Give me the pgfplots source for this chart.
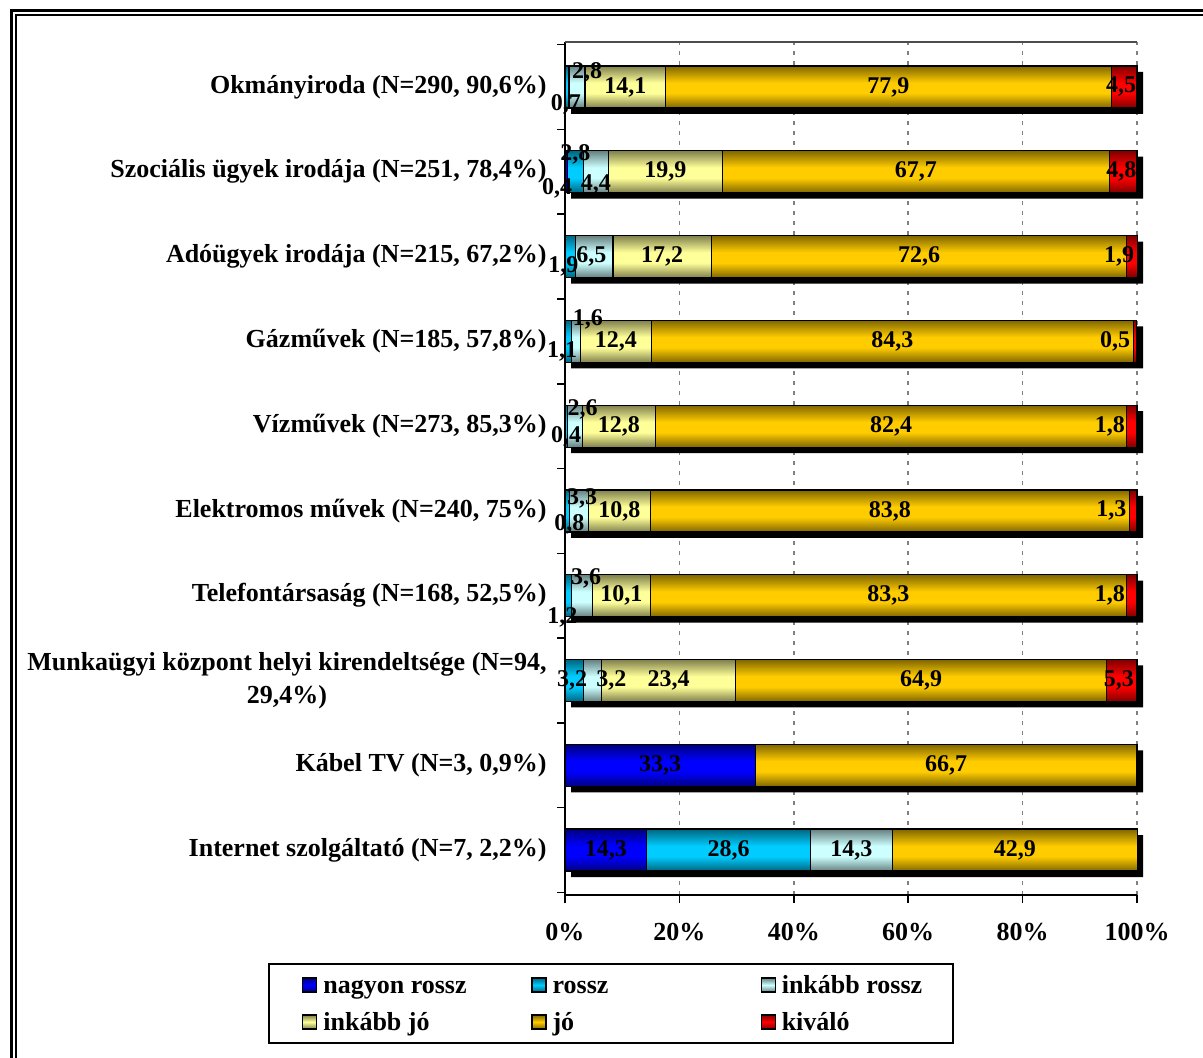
\documentclass[border=0pt]{standalone}
\usepackage{fontspec}
\setmainfont{Liberation Serif}
\usepackage{pgfplots}
\pgfplotsset{compat=1.18}
\usepackage{pgfplotstable}

\definecolor{cnr}{HTML}{0000FF}
\definecolor{cr}{HTML}{00CCFF}
\definecolor{cir}{HTML}{CCFFFF}
\definecolor{cij}{HTML}{FFFF99}
\definecolor{cjo}{HTML}{FFCC00}
\definecolor{ck}{HTML}{FF0000}

% each series is drawn as one path, so one shading covers all its bars;
% the stripes are placed at the bars from index #3 to #4 (path bbox = 25bp..75bp)
\newcommand\mkbars[4]{%
  \pgfmathsetmacro\barsH{(#4-#3)*42.396+21}%
  \gdef\barsspec{color(0bp)=(#2!50!black)}%
  \foreach \k in {#3,...,#4}{%
    \pgfmathsetmacro\bA{25+50*((\k-#3)*42.396/\barsH)}%
    \pgfmathsetmacro\bB{\bA+50*(7.35/\barsH)}%
    \pgfmathsetmacro\bC{\bA+50*(12.6/\barsH)}%
    \pgfmathsetmacro\bD{\bA+50*(21/\barsH)}%
    \xdef\barsspec{\barsspec; color(\bA bp)=(#2!50!black); color(\bB bp)=(#2); color(\bC bp)=(#2); color(\bD bp)=(#2!50!black)}%
  }%
  \xdef\barsspec{\barsspec; color(100bp)=(#2!50!black)}%
  \edef\x{\noexpand\pgfdeclareverticalshading{#1}{100bp}{\barsspec}}\x
}
\mkbars{barscnr}{cnr}{0}{8}
\mkbars{barscr}{cr}{0}{9}
\mkbars{barscir}{cir}{0}{9}
\mkbars{barscij}{cij}{2}{9}
\mkbars{barscjo}{cjo}{0}{9}
\mkbars{barsck}{ck}{2}{9}

% y: 9 = Okmanyiroda (top) ... 0 = Internet (bottom)
\pgfplotstableread{
y x lbl dx dy
9 0 {} 0 0
8 0.4 0,4 -4.5 -8.5
7 0 {} 0 0
6 0 {} 0 0
5 0 {} 0 0
4 0 {} 0 0
3 0 {} 0 0
2 0 {} 0 0
1 33.3 33,3 0 0
0 14.3 14,3 0 0
}\tnr
\pgfplotstableread{
y x lbl dx dy
9 0.7 0,7 -0.5 -8.5
8 2.8 2,8 0 8.5
7 1.9 1,9 -3.5 -5
6 1.1 1,1 -3 -5
5 0.4 0,4 0 -5
4 0.8 0,8 1 -6.5
3 1.2 1,2 -3 -11
2 3.2 3,2 -1 0
1 0 {} 0 0
0 28.6 28,6 0 0
}\tr
\pgfplotstableread{
y x lbl dx dy
9 2.8 2,8 5 7.5
8 4.4 4,4 0 -6.5
7 6.5 6,5 -1.5 0
6 1.6 1,6 6 11
5 2.6 2,6 4 8.5
4 3.3 3,3 1.5 6
3 3.6 3,6 2 8.5
2 3.2 3,2 9.5 0
1 0 {} 0 0
0 14.3 14,3 0 0
}\tir
\pgfplotstableread{
y x lbl dx dy
9 14.1 14,1 0 0
8 19.9 19,9 0 0
7 17.2 17,2 0 0
6 12.4 12,4 0 0
5 12.8 12,8 0 0
4 10.8 10,8 0 0
3 10.1 10,1 0 0
2 23.4 23,4 0 0
1 0 {} 0 0
0 0 {} 0 0
}\tij
\pgfplotstableread{
y x lbl dx dy
9 77.9 77,9 0 0
8 67.7 67,7 0 0
7 72.6 72,6 0 0
6 84.3 84,3 0 0
5 82.4 82,4 0 0
4 83.8 83,8 0 0
3 83.3 83,3 0 0
2 64.9 64,9 0 0
1 66.7 66,7 0 0
0 42.9 42,9 0 0
}\tjo
\pgfplotstableread{
y x lbl dx dy
9 4.5 4,5 -1.5 0
8 4.8 4,8 -1 0
7 1.9 1,9 -6.5 0
6 0.5 0,5 -10 0
5 1.8 1,8 -11 0
4 1.3 1,3 -11 0
3 1.8 1,8 -11 0
2 5.3 5,3 -1.5 0
1 0 {} 0 0
0 0 {} 0 0
}\tk

\pgfplotsset{
  seg/.style={draw=black, line width=0.6pt,
    top color=#1!50!black, bottom color=#1!50!black, middle color=#1,
    shading=bars#1},
}

\begin{document}
\begin{tikzpicture}
\useasboundingbox (-282.5pt,-81pt) rectangle (319pt,447.5pt);

% shadows and grid
\begin{axis}[
  at={(0pt,0pt)}, anchor=south west,
  scale only axis, width=286pt, height=426.5pt,
  xbar, bar width=21pt, bar shift=-3pt,
  xmin=-1.049, xmax=98.951, ymin=-0.53, ymax=9.53,
  clip=false,
  axis line style={draw=none},
  tick style={draw=none},
  xtick={18.951,38.951,58.951,78.951,98.951}, xticklabels={},
  ytick=\empty,
  xmajorgrids,
  grid style={gray, dash pattern=on 2pt off 3pt, line width=0.8pt},
]
\addplot[fill=black, draw=none] coordinates {
  (100,0) (100,1) (100,2) (100,3) (100,4)
  (100,5) (100,6) (100,7) (100,8) (100,9)};
\end{axis}

\begin{axis}[
  at={(0pt,0pt)}, anchor=south west,
  scale only axis, width=286pt, height=426.5pt,
  xbar stacked, bar width=21pt,
  xmin=0, xmax=100, ymin=-0.53, ymax=9.53,
  clip=false,
  axis x line*=bottom, axis y line*=left,
  axis line style={line width=1pt},
  tick align=outside, major tick length=4pt,
  tick style={black, line width=0.8pt},
  xtick={0,20,40,60,80,100},
  xticklabels={0\%,20\%,40\%,60\%,80\%,100\%},
  xticklabel style={font=\fontsize{13}{15}\selectfont\bfseries, yshift=-6.5pt},
  ytick={-0.5,0.5,...,9.5}, yticklabels={},
  extra y ticks={0,1,2,3,4,5,6,7,8,9},
  extra y tick labels={
    {Internet szolgáltató (N=7, 2,2\%)},
    {Kábel TV (N=3, 0,9\%)},
    {Munkaügyi központ helyi kirendeltsége (N=94,\\29,4\%)},
    {Telefontársaság (N=168, 52,5\%)},
    {Elektromos művek (N=240, 75\%)},
    {Vízművek (N=273, 85,3\%)},
    {Gázművek (N=185, 57,8\%)},
    {Adóügyek irodája (N=215, 67,2\%)},
    {Szociális ügyek irodája (N=251, 78,4\%)},
    {Okmányiroda (N=290, 90,6\%)}},
  extra y tick style={major tick length=0pt,
    yticklabel style={font=\fontsize{13}{16.5}\selectfont\bfseries, align=center, xshift=-5.7pt}},
  point meta=explicit symbolic,
  visualization depends on={\thisrow{dx} \as \dx},
  visualization depends on={\thisrow{dy} \as \dy},
  nodes near coords,
  every node near coord/.append style={font=\fontsize{12}{14}\selectfont\bfseries,
    text=black, inner sep=0pt, xshift=\dx*1pt, yshift=\dy*1pt},
  legend columns=3,
  legend cell align=left,
  legend style={at={(axis description cs:0.0804,-0.0797)}, anchor=north,
    draw=black, line width=1pt, font=\fontsize{13}{15}\selectfont\bfseries,
    inner xsep=16.5pt, inner ysep=2.5pt, row sep=2.5pt,
    nodes={inner sep=2pt},
    /tikz/every odd column/.append style={column sep=1pt},
    /tikz/every even column/.append style={column sep=8pt}},
  legend image code/.code={\draw[#1, shading=axis, line width=0.6pt] (0pt,-3.5pt) rectangle (7pt,3.5pt);},
]
\addplot[seg=cnr] table[x=x, y=y, meta=lbl] {\tnr};
\addlegendentry{\makebox[94pt][l]{\strut nagyon rossz}}
\addplot[seg=cr] table[x=x, y=y, meta=lbl] {\tr};
\addlegendentry{\makebox[94pt][l]{\strut rossz}}
\addplot[seg=cir] table[x=x, y=y, meta=lbl] {\tir};
\addlegendentry{\makebox[67pt][l]{\strut inkább rossz}}
\addplot[seg=cij] table[x=x, y=y, meta=lbl] {\tij};
\addlegendentry{\makebox[94pt][l]{\strut inkább jó}}
\addplot[seg=cjo] table[x=x, y=y, meta=lbl] {\tjo};
\addlegendentry{\makebox[94pt][l]{\strut jó}}
\addplot[seg=ck] table[x=x, y=y, meta=lbl] {\tk};
\addlegendentry{\makebox[67pt][l]{\strut kiváló}}
\draw[gray!60!black, line width=0.6pt] (rel axis cs:0,1) -- (rel axis cs:1,1);
\end{axis}

% outer frame (only its left and top sides fall on the page)
\draw[line width=1.5pt] (-276.75pt,-200pt) -- (-276.75pt,442.25pt) -- (400pt,442.25pt);
\draw[line width=1pt] (-274.5pt,-200pt) -- (-274.5pt,439.75pt) -- (400pt,439.75pt);
\end{tikzpicture}
\end{document}
